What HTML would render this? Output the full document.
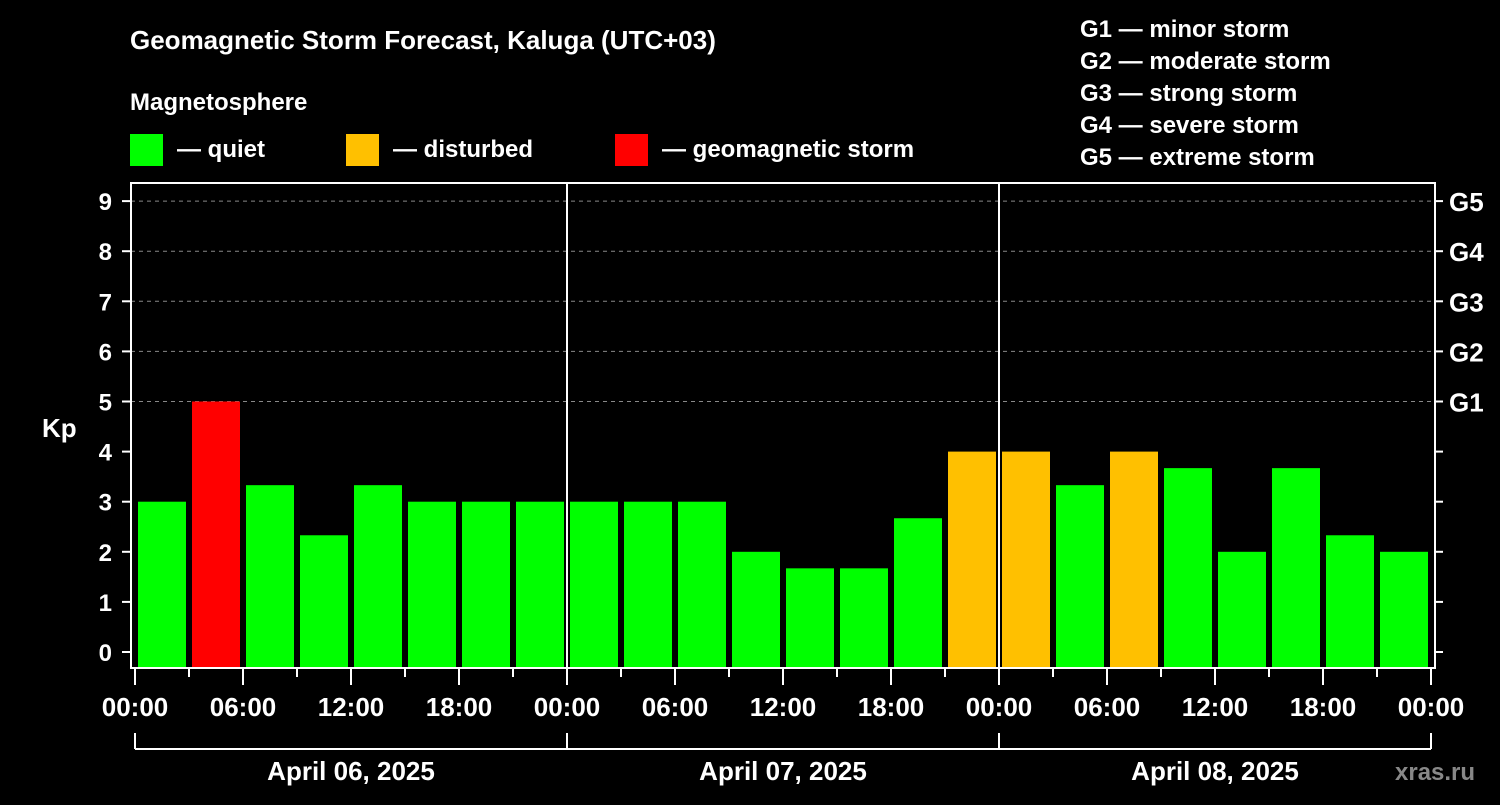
<!DOCTYPE html>
<html><head><meta charset="utf-8"><style>
body{margin:0;background:#000;width:1500px;height:800px;overflow:hidden}
svg text{font-family:"Liberation Sans",sans-serif;font-weight:bold;fill:#fff}
</style></head><body>
<svg id="chart" width="1500" height="800" xmlns="http://www.w3.org/2000/svg">
<text x="130" y="49" font-size="26">Geomagnetic Storm Forecast, Kaluga (UTC+03)</text>
<text x="130" y="110" font-size="24">Magnetosphere</text>
<g><rect x="130" y="134" width="33" height="32" fill="#00ff00"/><text x="177" y="157" font-size="24">— quiet</text></g>
<g><rect x="346" y="134" width="33" height="32" fill="#ffc000"/><text x="393" y="157" font-size="24">— disturbed</text></g>
<g><rect x="615" y="134" width="33" height="32" fill="#ff0000"/><text x="662" y="157" font-size="24">— geomagnetic storm</text></g>
<g font-size="24">
<text x="1080" y="37">G1 — minor storm</text>
<text x="1080" y="69">G2 — moderate storm</text>
<text x="1080" y="101">G3 — strong storm</text>
<text x="1080" y="133">G4 — severe storm</text>
<text x="1080" y="165">G5 — extreme storm</text>
</g>
<text x="42" y="437" font-size="26">Kp</text>
<g id="grid"></g><g id="bars"></g><g id="axes"></g>
<text x="1395" y="780" font-size="24" fill="#888" style="fill:#888">xras.ru</text>
</svg>
<script>
const kpValues=[3,5,3.33,2.33,3.33,3,3,3, 3,3,3,2,1.67,1.67,2.67,4, 4,3.33,4,3.67,2,3.67,2.33,2];
const kpLevels=["quiet","storm","quiet","quiet","quiet","quiet","quiet","quiet","quiet","quiet","quiet","quiet","quiet","quiet","quiet","disturbed","disturbed","quiet","disturbed","quiet","quiet","quiet","quiet","quiet"];
const yTicks=[0,1,2,3,4,5,6,7,8,9];
const gLabels=["G1","G2","G3","G4","G5"];
const xLabels=["00:00","06:00","12:00","18:00","00:00","06:00","12:00","18:00","00:00","06:00","12:00","18:00","00:00"];
const dayLabels=["April 06, 2025","April 07, 2025","April 08, 2025"];
const NS="http://www.w3.org/2000/svg";
const L=131,R=1435,T=183,B=668,X0=135,SLOT=54;
const y=v=>652-v*50.1;
const x=i=>X0+i*SLOT;
const col={quiet:"#00ff00",disturbed:"#ffc000",storm:"#ff0000"};
function mk(p,tag,a){const e=document.createElementNS(NS,tag);for(const k in a)e.setAttribute(k,a[k]);p.appendChild(e);return e;}
const grid=document.getElementById('grid'),bars=document.getElementById('bars'),axes=document.getElementById('axes');
yTicks.forEach(v=>{
 if(v>=5){const g=mk(grid,'line',{x1:L,x2:R,y1:y(v),y2:y(v),stroke:'#888','stroke-dasharray':'4,4','stroke-width':1});
 
 }
 const t=mk(axes,'line',{x1:122,x2:L,y1:y(v),y2:y(v),stroke:'#fff','stroke-width':2});
 
 
 const lb=mk(axes,'text',{x:112,y:y(v)+9,'font-size':24,'text-anchor':'end'});lb.textContent=v;
 
 
 const rt=mk(axes,'line',{x1:R,x2:1443,y1:y(v),y2:y(v),stroke:'#fff','stroke-width':2});
 
 
});
gLabels.forEach((g,i)=>{const lb=mk(axes,'text',{x:1449,y:y(i+5)+10,'font-size':26});lb.textContent=g;
 
 });
kpValues.forEach((v,i)=>{const r=mk(bars,'rect',{x:x(i)+3,y:y(v),width:SLOT-6,height:B-y(v),fill:col[kpLevels[i]]});
 
 });
const fr=mk(axes,'rect',{x:L,y:T,width:R-L,height:B-T,fill:'none',stroke:'#fff','stroke-width':2});


[1,2].forEach(d=>{const l=mk(axes,'line',{x1:x(d*8),x2:x(d*8),y1:T,y2:B,stroke:'#fff','stroke-width':2});
 
 });
for(let i=0;i<=24;i++){const major=i%2==0;const t=mk(axes,'line',{x1:x(i),x2:x(i),y1:B,y2:major?685:677,stroke:'#fff','stroke-width':2});
 
 }
xLabels.forEach((s,i)=>{const lb=mk(axes,'text',{x:x(i*2),y:716,'font-size':26,'text-anchor':'middle'});lb.textContent=s;
 
 });
const br=mk(axes,'line',{x1:x(0),x2:x(24),y1:749,y2:749,stroke:'#fff','stroke-width':2});


[0,8,16,24].forEach(i=>{const l=mk(axes,'line',{x1:x(i),x2:x(i),y1:733,y2:749,stroke:'#fff','stroke-width':2});
 
 });
dayLabels.forEach((s,d)=>{const lb=mk(axes,'text',{x:x(d*8+4),y:780,'font-size':26,'text-anchor':'middle'});lb.textContent=s;
 
 });
</script>
</body></html>
